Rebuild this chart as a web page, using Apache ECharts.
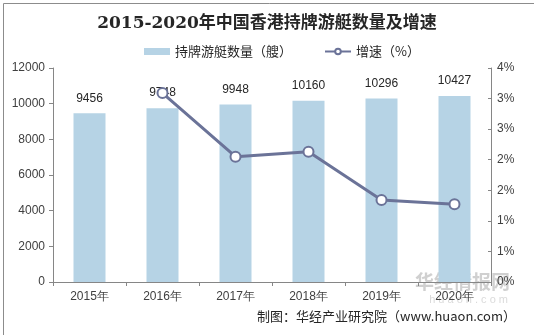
<!DOCTYPE html>
<html><head><meta charset="utf-8">
<script src="https://cdn.jsdelivr.net/npm/echarts@6/dist/echarts.min.js"></script>
<style>html,body{margin:0;padding:0;background:#fff}#c{width:534px;height:335px}</style>
</head><body><div id="c"></div>
<script>
const categories = ['2015年','2016年','2017年','2018年','2019年','2020年'];
const yachtCount = [9456, 9748, 9948, 10160, 10296, 10427];
const growthYears = ['2016年','2017年','2018年','2019年','2020年'];
const growthRate = [3.09, 2.05, 2.13, 1.34, 1.27];

const chart = echarts.init(document.getElementById('c'));
const lineColor = '#6b7398';
const axisFont = '"Liberation Sans",Arial,sans-serif';
chart.setOption({
  animation: false,
  title: {
    text: '2015-2020年中国香港持牌游艇数量及增速',
    left: 'center', top: 10,
    textStyle: {fontFamily: '"DejaVu Serif","Noto Sans CJK SC",serif', fontWeight: 'bold', fontSize: 17, color: '#262626'}
  },
  legend: {
    top: 40, left: 139, itemGap: 32, itemWidth: 26, itemHeight: 7,
    textStyle: {fontFamily: '"Noto Sans CJK SC",sans-serif', fontSize: 13, color: '#262626'},
    data: [
      {name: '持牌游艇数量（艘）', icon: 'rect'},
      {name: '增速（%）'}
    ]
  },
  grid: {left: 53, right: 43, top: 68, bottom: 53},
  xAxis: {
    type: 'category', data: categories,
    axisLine: {lineStyle: {color: '#868686'}},
    axisTick: {show: true, length: 4, lineStyle: {color: '#868686'}},
    axisLabel: {color: '#404040', fontSize: 12, fontFamily: axisFont, margin: 9}
  },
  yAxis: [
    {
      type: 'value', min: 0, max: 12000, interval: 2000,
      axisLine: {show: true, lineStyle: {color: '#868686'}},
      axisTick: {show: true, length: 4, lineStyle: {color: '#868686'}},
      splitLine: {show: false},
      axisLabel: {color: '#404040', fontSize: 12, fontFamily: axisFont, margin: 8, formatter: v => String(v)}
    },
    {
      type: 'value', min: 0, max: 3.5, interval: 0.5, position: 'right',
      axisLine: {show: true, lineStyle: {color: '#868686'}},
      axisTick: {show: true, inside: true, length: 3, lineStyle: {color: '#868686'}},
      splitLine: {show: false},
      axisLabel: {color: '#404040', fontSize: 12, fontFamily: axisFont, margin: 6,
        formatter: v => Math.round(v + 1e-9) + '%'}
    }
  ],
  series: [
    {
      name: '持牌游艇数量（艘）', type: 'bar', data: yachtCount, barWidth: 32,
      itemStyle: {color: '#b6d3e5'},
      label: {show: true, position: 'top', distance: 9, color: '#262626', fontSize: 12, fontFamily: axisFont},
      z: 2
    },
    {
      name: '增速（%）', type: 'line', yAxisIndex: 1,
      data: growthYears.map((y, i) => [y, growthRate[i]]),
      symbol: 'circle', symbolSize: 10, showAllSymbol: true,
      lineStyle: {color: lineColor, width: 3},
      itemStyle: {color: '#fff', borderColor: lineColor, borderWidth: 2},
      z: 3
    }
  ],
  graphic: [
    {type: 'rect', left: 1, top: 1, shape: {width: 532, height: 333}, style: {fill: 'none', stroke: '#8c8c8c', lineWidth: 1}, silent: true},
    {type: 'text', right: 24, top: 272, style: {text: '华经情报网', fill: 'rgba(150,150,150,0.45)', font: 'bold 19px "Noto Sans CJK SC",sans-serif'}},
    {type: 'text', right: 26, top: 294, style: {text: 'h u a o n . c o m', fill: 'rgba(150,150,150,0.35)', font: '11px "Liberation Sans",sans-serif'}},
    {type: 'text', right: 18, top: 310, style: {text: '制图：华经产业研究院（www.huaon.com）', fill: '#262626', font: '13px "Noto Sans CJK SC",sans-serif'}}
  ]
});
</script></body></html>
